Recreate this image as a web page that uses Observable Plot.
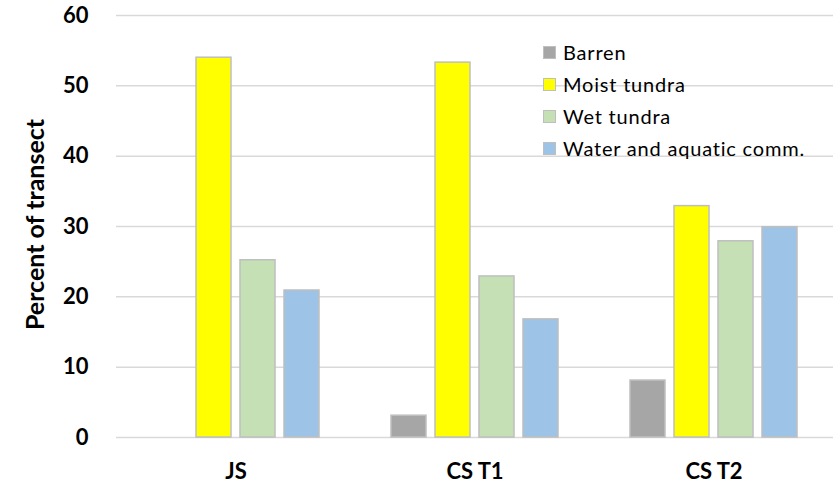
<!DOCTYPE html>
<html>
<head>
<meta charset="utf-8">
<script src="https://cdn.jsdelivr.net/npm/d3@7"></script>
<script src="https://cdn.jsdelivr.net/npm/@observablehq/plot@0.6"></script>
<style>
  body { margin: 0; background: #fff; }
  #wrap { position: relative; width: 838px; height: 488px; font-family: Lato, "Open Sans", sans-serif; }
  #legend { position: absolute; left: 543px; top: 36px; font-size: 20px; letter-spacing: 0.8px; color: #000; }
  .row { display: flex; align-items: center; height: 32px; }
  .sw { width: 11px; height: 11px; border: 1px solid #bfbfbf; margin-right: 7px; }
</style>
</head>
<body>
<div id="wrap"><div id="legend"></div></div>
<script>
const groups = ["JS", "CS T1", "CS T2"];
const classes = ["Barren", "Moist tundra", "Wet tundra", "Water and aquatic comm."];
const barren = [0, 3.1, 8.1];
const moist = [54.0, 53.3, 32.9];
const wet = [25.2, 22.9, 27.9];
const water = [20.9, 16.8, 29.9];
const colors = ["#a6a6a6", "#ffff00", "#c5e0b4", "#9dc3e6"];
const yTicks = [0, 10, 20, 30, 40, 50, 60];
const yTitle = "Percent of transect";

const series = [barren, moist, wet, water];
const data = groups.flatMap((g, i) => classes.map((c, j) => ({group: g, cls: c, value: series[j][i]})));

const chart = Plot.plot({
  width: 838,
  height: 488,
  marginLeft: 116,
  marginRight: 5,
  marginTop: 15,
  marginBottom: 51,
  style: {fontFamily: "Lato, 'Open Sans', sans-serif", color: "#000"},
  fx: {domain: groups, padding: 0, label: null},
  x: {domain: classes, axis: null, paddingInner: 0.2, paddingOuter: 0.8},
  y: {domain: [0, 60]},
  color: {domain: classes, range: colors},
  marks: [
    Plot.gridY(yTicks, {stroke: "#d9d9d9", strokeOpacity: 1, strokeWidth: 1.5}),
    Plot.axisY(yTicks, {tickSize: 0, tickPadding: 28, fontSize: 22, fontWeight: "bold", label: null}),
    Plot.text([yTitle], {fx: () => groups[0], text: d => d, frameAnchor: "left", textAnchor: "middle",
      rotate: -90, dx: -81, dy: -2, fontSize: 25, fontWeight: "bold", fill: "#000"}),
    Plot.axisFx({anchor: "bottom", tickSize: 0, tickPadding: 26, fontSize: 22, fontWeight: "bold", label: null}),
    Plot.barY(data, {fx: "group", x: "cls", y: "value", fill: "cls", stroke: "#bfbfbf", strokeWidth: 1.5,
      filter: d => d.value > 0})
  ]
});
document.getElementById("wrap").prepend(chart);

const legend = document.getElementById("legend");
classes.forEach((c, i) => {
  const row = document.createElement("div");
  row.className = "row";
  const sw = document.createElement("div");
  sw.className = "sw";
  sw.style.background = colors[i];
  const t = document.createElement("span");
  t.textContent = c;
  row.append(sw, t);
  legend.append(row);
});
</script>
</body>
</html>
